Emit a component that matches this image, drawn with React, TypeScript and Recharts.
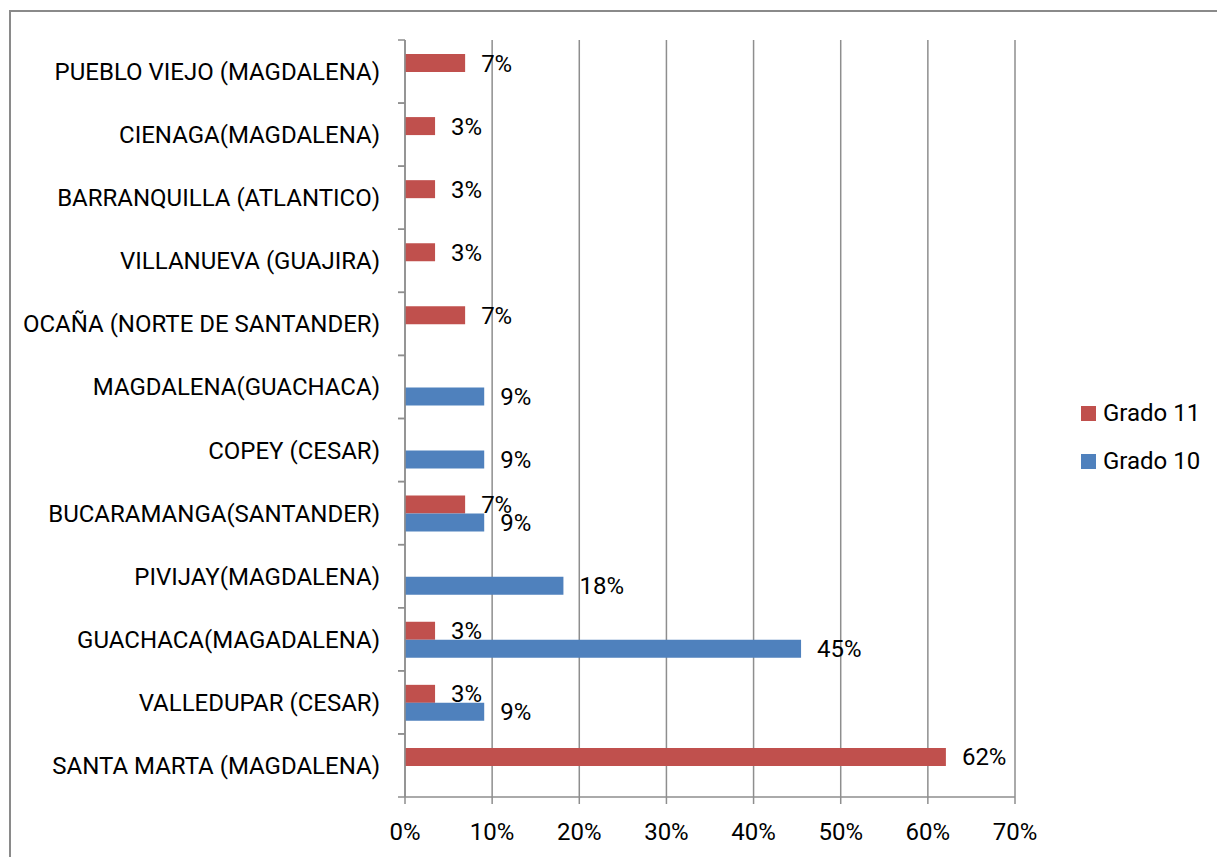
import React from 'react';
import { BarChart, Bar, XAxis, YAxis, CartesianGrid, Legend, LabelList } from 'recharts';

const categories = [
  'SANTA MARTA (MAGDALENA)',
  'VALLEDUPAR (CESAR)',
  'GUACHACA(MAGADALENA)',
  'PIVIJAY(MAGDALENA)',
  'BUCARAMANGA(SANTANDER)',
  'COPEY (CESAR)',
  'MAGDALENA(GUACHACA)',
  'OCAÑA (NORTE DE SANTANDER)',
  'VILLANUEVA (GUAJIRA)',
  'BARRANQUILLA (ATLANTICO)',
  'CIENAGA(MAGDALENA)',
  'PUEBLO VIEJO (MAGDALENA)',
];
const grado11: (number | null)[] = [62.07, 3.45, 3.45, null, 6.9, null, null, 6.9, 3.45, 3.45, 3.45, 6.9];
const grado10: (number | null)[] = [null, 9.09, 45.45, 18.18, 9.09, 9.09, 9.09, null, null, null, null, null];
const xTicks = [0, 10, 20, 30, 40, 50, 60, 70];
const seriesNames = ['Grado 11', 'Grado 10'];

const data = categories.map((c, i) => ({ name: c, g11: grado11[i], g10: grado10[i] }));

const FONT = 'Roboto, "Noto Sans", sans-serif';
const GRID = '#8e8e8e';
const RED = '#C0504D';
const BLUE = '#4F81BD';
const Y_TICK_MARGIN = 25;

const CategoryTick = (props: any) => {
  const { x, y, payload } = props;
  const half = payload && typeof payload.offset === 'number' ? payload.offset : 0;
  const axisX = x + Y_TICK_MARGIN;
  return (
    <g>
      <line x1={axisX - 7} x2={axisX} y1={y - half} y2={y - half} stroke={GRID} strokeWidth={1.5} />
      <line x1={axisX - 7} x2={axisX} y1={y + half} y2={y + half} stroke={GRID} strokeWidth={1.5} />
      <text x={x} y={y} dy="0.355em" textAnchor="end" fontSize={24} fontFamily={FONT} fill="#000">
        {payload.value}
      </text>
    </g>
  );
};

const fmt = (v: any) => (v === null || v === undefined ? '' : `${Math.round(Number(v))}%`);

const LegendContent = (props: any) => {
  const payload = [...(props.payload || [])].sort(
    (a: any, b: any) => seriesNames.indexOf(a.value) - seriesNames.indexOf(b.value)
  );
  return (
    <div style={{ fontFamily: FONT, fontSize: 24, color: '#000' }}>
      {payload.map((p: any) => (
        <div key={p.value} style={{ display: 'flex', alignItems: 'center', height: 48 }}>
          <div style={{ width: 15, height: 15, background: p.color, marginRight: 7 }} />
          <span style={{ lineHeight: '48px' }}>{p.value}</span>
        </div>
      ))}
    </div>
  );
};

export default function App() {
  return (
    <div style={{ position: 'fixed', left: 0, top: 0, width: 1217, height: 857, overflow: 'hidden', background: '#fff' }}>
      <div
        style={{
          position: 'absolute',
          left: 9,
          top: 10,
          width: 1400,
          height: 1000,
          border: '2px solid #8a8a8a',
        }}
      />
      <div style={{ position: 'absolute', left: 0, top: 0 }}>
        <BarChart
          width={1217}
          height={857}
          data={data}
          layout="vertical"
          margin={{ top: 40, right: 72, bottom: 20, left: 10 }}
          barGap={0}
          barSize={18}
        >
          <CartesianGrid horizontal={false} stroke={GRID} strokeWidth={1.5} />
          <XAxis
            type="number"
            domain={[0, 70]}
            ticks={xTicks}
            tickFormatter={(v) => `${v}%`}
            axisLine={{ stroke: GRID, strokeWidth: 1.5 }}
            tickLine={{ stroke: GRID, strokeWidth: 1.5 }}
            tickSize={7}
            tickMargin={19}
            height={40}
            interval={0}
            tick={{ fontSize: 24, fontFamily: FONT, fill: '#000' }}
          />
          <YAxis
            type="category"
            dataKey="name"
            reversed
            width={395}
            axisLine={{ stroke: GRID, strokeWidth: 1.5 }}
            tickLine={false}
            tickSize={0}
            tickMargin={Y_TICK_MARGIN}
            interval={0}
            tick={<CategoryTick />}
          />
          <Legend
            layout="vertical"
            align="right"
            verticalAlign="middle"
            content={<LegendContent />}
            wrapperStyle={{ width: 130, left: 1081, right: 'auto', top: 389 }}
          />
          <Bar dataKey="g11" name={seriesNames[0]} fill={RED} isAnimationActive={false}>
            <LabelList dataKey="g11" position="right" offset={16} formatter={fmt} style={{ fontSize: 24, fontFamily: FONT, fill: '#000' }} />
          </Bar>
          <Bar dataKey="g10" name={seriesNames[1]} fill={BLUE} isAnimationActive={false}>
            <LabelList dataKey="g10" position="right" offset={16} formatter={fmt} style={{ fontSize: 24, fontFamily: FONT, fill: '#000' }} />
          </Bar>
        </BarChart>
      </div>
    </div>
  );
}
